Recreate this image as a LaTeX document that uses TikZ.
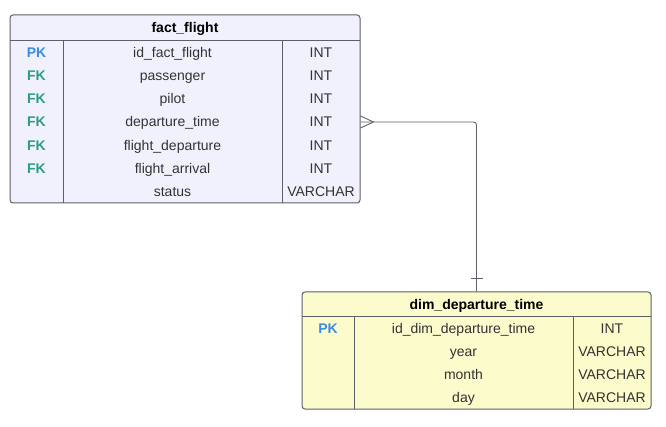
\documentclass[tikz,border=0pt]{standalone}
\usepackage{fontspec}
\setmainfont{Liberation Sans}
\usepackage{tikz}
\usetikzlibrary{positioning}
\definecolor{factfill}{HTML}{F1F1FD}
\definecolor{dimfill}{HTML}{FBFBCB}
\definecolor{pkblue}{HTML}{3A8BE4}
\definecolor{fkteal}{HTML}{2C9C87}
\definecolor{linegray}{HTML}{5E6068}
\definecolor{textgray}{HTML}{333333}
\tikzset{table/.style = {draw=linegray, line width=1pt, rounded corners=3pt, inner sep=0pt}}
\tikzset{cell/.style = {text=textgray, font=\fontsize{14}{16}\selectfont, inner sep=0pt, text height=12pt, text depth=2pt, anchor=center}}
\tikzset{head/.style = {cell, text=black, font=\fontsize{14}{16}\selectfont\bfseries}}
\tikzset{key/.style = {cell, font=\fontsize{14}{16}\selectfont\bfseries}}
\tikzset{rule/.style = {draw=linegray, line width=1pt}}
\tikzset{rel/.style = {draw=linegray, line width=0.9pt}}

\begin{document}
\begin{tikzpicture}[x=1pt, y=-1pt]
		\useasboundingbox (0,0) rectangle (666,427);
		%fact table
		\node[table, fill=factfill, minimum width=350pt, minimum height=188pt](fact) at (185,109){};
		\node[head](fhead) at (185,28){fact\_flight};
		\draw[rule] (10,41) -- (360,41);
		\draw[rule] (63,41) -- (63,203);
		\draw[rule] (282,41) -- (282,203);
		\foreach \c/\k/\n/\t [count=\i] in {pkblue/PK/id\_fact\_flight/INT, fkteal/FK/passenger/INT, fkteal/FK/pilot/INT, fkteal/FK/departure\_time/INT, fkteal/FK/flight\_departure/INT, fkteal/FK/flight\_arrival/INT, fkteal//status/VARCHAR}{
			\node[key, text=\c](fk\i) at (36.5,41+23.14*\i-11.57){\k};
			\node[cell](fn\i) at (172.5,41+23.14*\i-11.57){\n};
			\node[cell](ft\i) at (321,41+23.14*\i-11.57){\t};
		}

		%dim table
		\node[table, fill=dimfill, minimum width=349pt, minimum height=117pt](dim) at (476.5,350.5){};
		\node[head](dhead) at (476.5,304.5){dim\_departure\_time};
		\draw[rule] (302,317) -- (651,317);
		\draw[rule] (354,317) -- (354,409);
		\draw[rule] (573,317) -- (573,409);
		\foreach \k/\n/\t [count=\i] in {PK/id\_dim\_departure\_time/INT, /year/VARCHAR, /month/VARCHAR, /day/VARCHAR}{
			\node[key, text=pkblue](dk\i) at (328,317+23*\i-11.5){\k};
			\node[cell](dn\i) at (463.5,317+23*\i-11.5){\n};
			\node[cell](dt\i) at (612,317+23*\i-11.5){\t};
		}

		%relation: many fact rows to one time
		\coordinate (from) at (fact.east |- ft4);
		\draw[rel, rounded corners=3pt] (from) -| (dim.north);
		\draw[rel] ([yshift=-6pt]from) -- ([xshift=13pt]from) -- ([yshift=6pt]from);
		\draw[rel] ([xshift=-6pt, yshift=13pt]dim.north) -- ([xshift=6pt, yshift=13pt]dim.north);
\end{tikzpicture}
\end{document}
